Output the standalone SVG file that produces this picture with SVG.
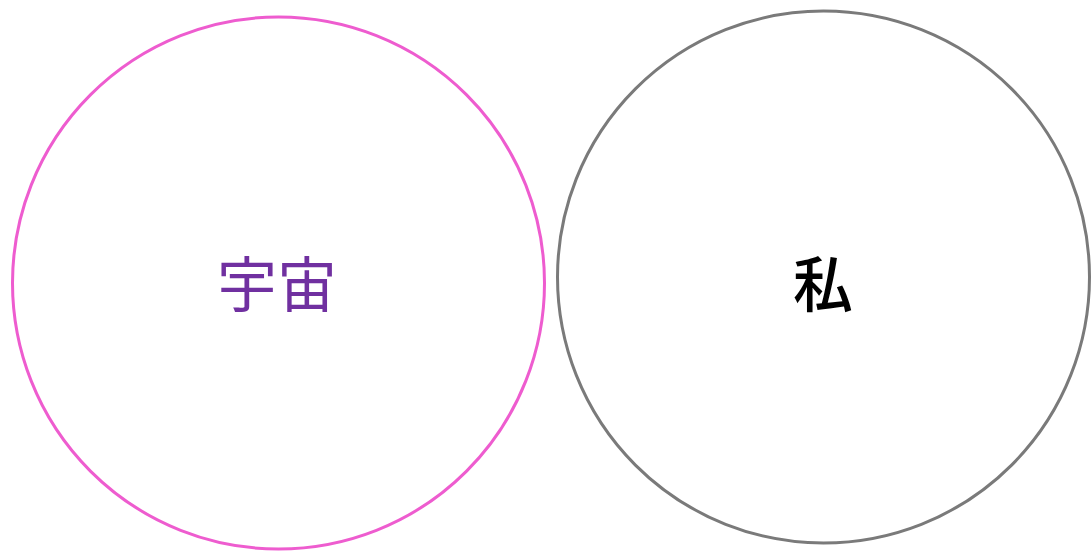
<svg xmlns="http://www.w3.org/2000/svg" width="1092" height="554" viewBox="0 0 1092 554">
<style>
.c{fill:none;stroke-width:3}
.t{font-family:"Noto Sans CJK JP","Noto Sans CJK SC",sans-serif;font-size:60px;text-anchor:middle;dominant-baseline:central}
</style>
<rect width="1092" height="554" fill="#fff"/>
<g id="uchu">
<circle class="c" cx="278.5" cy="283" r="266" stroke="#ee5ccf"/>
<text class="t" x="277" y="280" fill="#7030a0">宇宙</text>
</g>
<g id="watashi">
<circle class="c" cx="823.5" cy="277" r="266" stroke="#7a7a7a"/>
<text class="t" x="823" y="280" fill="#000" font-weight="500">私</text>
</g>
<g id="connectors"></g>
</svg>
